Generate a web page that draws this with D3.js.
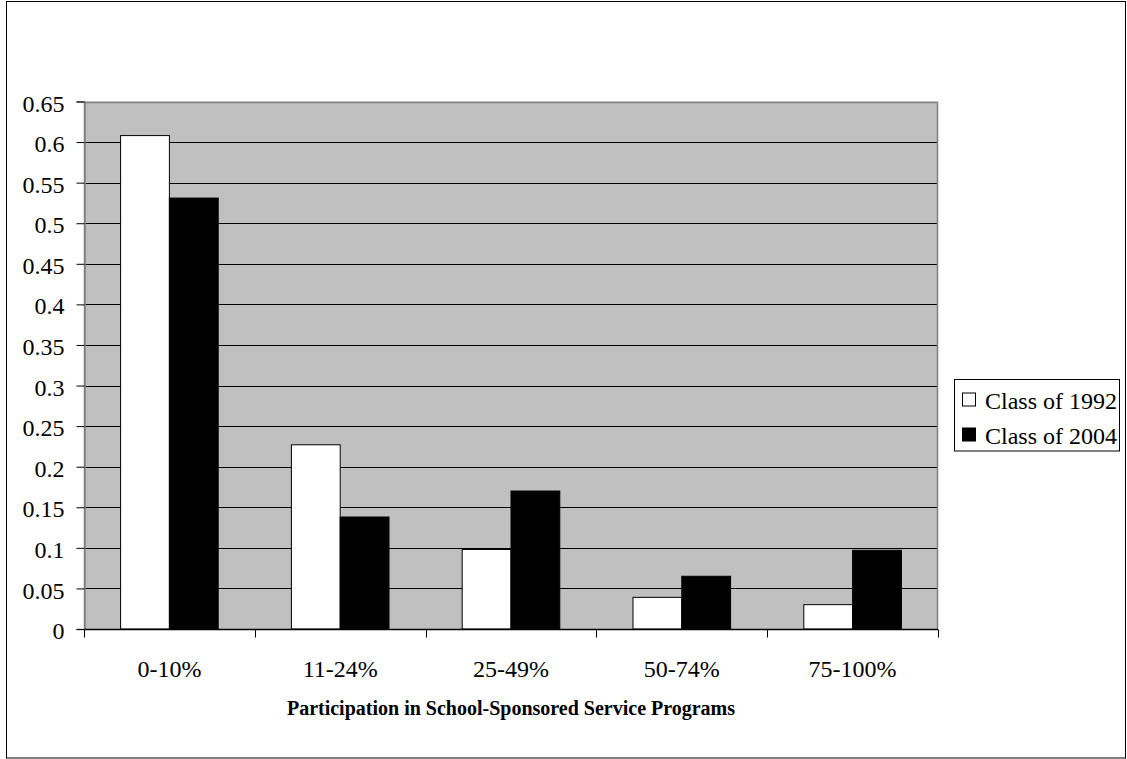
<!DOCTYPE html>
<html>
<head>
<meta charset="utf-8">
<script src="https://cdn.jsdelivr.net/npm/d3@7"></script>
<style>
  html, body { margin: 0; padding: 0; background: #fff; }
  svg { display: block; }
  svg text { font-family: "Liberation Serif", "Times New Roman", Times, serif; }
</style>
</head>
<body>
<script>
// Share of students by participation level in school-sponsored service programs
const categories = ["0-10%", "11-24%", "25-49%", "50-74%", "75-100%"];
const seriesNames = ["Class of 1992", "Class of 2004"];
const class1992 = [0.608, 0.227, 0.098, 0.039, 0.030];
const class2004 = [0.531, 0.138, 0.170, 0.065, 0.097];
const yTicks = [0, 0.05, 0.1, 0.15, 0.2, 0.25, 0.3, 0.35, 0.4, 0.45, 0.5, 0.55, 0.6, 0.65];
const xTitle = "Participation in School-Sponsored Service Programs";

const W = 1127, H = 759;
const plot = { left: 84, right: 938, top: 101.5, bottom: 629 };
const seriesFill = ["#ffffff", "#000000"];
const labelSize = 24;

const svg = d3.select("body").append("svg")
  .attr("width", W).attr("height", H);

// outer chart frame
svg.append("rect")
  .attr("x", 6.5).attr("y", 1.5)
  .attr("width", 1119).attr("height", 756.5)
  .attr("fill", "#fff").attr("stroke", "#000").attr("stroke-width", 1);

const x = d3.scaleBand().domain(categories)
  .range([plot.left, plot.right]).paddingInner(0).paddingOuter(0);
const y = d3.scaleLinear().domain([0, 0.65]).range([plot.bottom, plot.top]);

// two bars per category: bar width = band / 3.5 (gap width 150%)
const barW = x.bandwidth() / 3.5;
const xs = d3.scaleBand().domain(seriesNames)
  .range([0, 2 * barW]).padding(0);

// plot background
svg.append("rect")
  .attr("x", plot.left).attr("y", plot.top)
  .attr("width", plot.right - plot.left).attr("height", plot.bottom - plot.top)
  .attr("fill", "#c0c0c0");

// horizontal gridlines
svg.append("g").selectAll("line")
  .data(yTicks.filter(d => d > 0 && d < 0.65))
  .join("line")
  .attr("x1", plot.left).attr("x2", plot.right)
  .attr("y1", d => Math.round(y(d)) + 0.5).attr("y2", d => Math.round(y(d)) + 0.5)
  .attr("stroke", "#000").attr("stroke-width", 1);

// plot border (top, right, left) in grey
svg.append("path")
  .attr("d", `M${plot.left + 0.5},${plot.bottom} V${Math.round(plot.top) + 0.5} H${plot.right - 0.5} V${plot.bottom}`)
  .attr("fill", "none").attr("stroke", "#808080").attr("stroke-width", 1.5);

// bars
const rows = categories.map((c, i) => ({ cat: c, vals: [class1992[i], class2004[i]] }));
const groups = svg.append("g").selectAll("g")
  .data(rows).join("g")
  .attr("transform", d => `translate(${x(d.cat) + (x.bandwidth() - 2 * barW) / 2},0)`);
groups.selectAll("rect")
  .data(d => d.vals.map((v, j) => ({ name: seriesNames[j], v, j })))
  .join("rect")
  .attr("x", d => xs(d.name))
  .attr("width", xs.bandwidth())
  .attr("y", d => y(d.v))
  .attr("height", d => y(0) - y(d.v))
  .attr("fill", d => seriesFill[d.j])
  .attr("stroke", "#000").attr("stroke-width", 1);

// y axis
const yAxis = d3.axisLeft(y).tickValues(yTicks)
  .tickFormat(d => String(+d.toFixed(2)))
  .tickSize(8).tickPadding(12);
const gy = svg.append("g").attr("transform", `translate(${plot.left + 0.5},0)`).call(yAxis);
gy.attr("font-family", null).attr("font-size", null);
gy.select(".domain").attr("stroke", "#808080").attr("stroke-width", 1.5);
gy.selectAll(".tick line").attr("stroke", "#000");
gy.selectAll(".tick text")
  .attr("dy", "0.4em")
  .attr("font-size", labelSize).attr("fill", "#000");

// x axis: ticks at category boundaries
const gx = svg.append("g").attr("transform", `translate(0,${plot.bottom + 0.5})`);
gx.append("line")
  .attr("x1", plot.left).attr("x2", plot.right)
  .attr("stroke", "#000").attr("stroke-width", 1.5);
const bounds = categories.map(c => x(c)).concat([plot.right]);
gx.selectAll("line.tk").data(bounds).join("line").attr("class", "tk")
  .attr("x1", d => Math.round(d) + 0.5).attr("x2", d => Math.round(d) + 0.5)
  .attr("y1", 0).attr("y2", 8)
  .attr("stroke", "#000");
gx.selectAll("text").data(categories).join("text")
  .attr("x", d => x(d) + x.bandwidth() / 2)
  .attr("y", 47)
  .attr("text-anchor", "middle")
  .attr("font-size", labelSize).attr("fill", "#000")
  .text(d => d);

// x axis title
svg.append("text")
  .attr("x", (plot.left + plot.right) / 2).attr("y", 715)
  .attr("text-anchor", "middle")
  .attr("font-size", 20).attr("font-weight", "bold")
  .attr("fill", "#000")
  .text(xTitle);

// legend
const lg = svg.append("g").attr("transform", "translate(954.5,379.5)");
lg.append("rect").attr("width", 165).attr("height", 71.5)
  .attr("fill", "#fff").attr("stroke", "#000").attr("stroke-width", 1);
const items = lg.selectAll("g.item").data(seriesNames).join("g").attr("class", "item")
  .attr("transform", (d, i) => `translate(0,${i * 35})`);
items.append("rect")
  .attr("x", 8).attr("y", 13.5).attr("width", 13).attr("height", 13)
  .attr("fill", (d, i) => seriesFill[i]).attr("stroke", "#000").attr("stroke-width", 1);
items.append("text")
  .attr("x", 30.5).attr("y", 29)
  .attr("font-size", labelSize).attr("fill", "#000")
  .text(d => d);
</script>
</body>
</html>
